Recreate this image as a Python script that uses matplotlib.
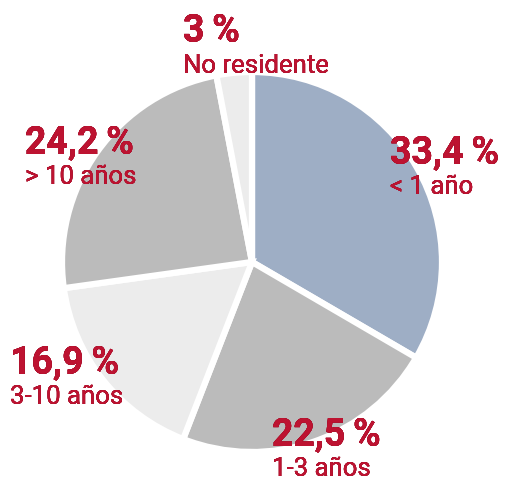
import matplotlib.pyplot as plt
import matplotlib.colors as mc
import numpy as np

plt.rcParams['font.family'] = ['Roboto', 'DejaVu Sans']

shares = [33.4, 22.5, 16.9, 24.2, 3.0]
pct_labels = ["33,4\u2009%", "22,5\u2009%", "16,9\u2009%", "24,2\u2009%", "3\u2009%"]
names = ["< 1 año", "1-3 años", "3-10 años", "> 10 años", "No residente"]
colors = ["#9eaec5", "#bbbbbb", "#ececec", "#bbbbbb", "#ececec"]
red = "#cc1435"

W, H = 511, 479
fig = plt.figure(figsize=(W / 100, H / 100), dpi=100)
cx, cy, r = 252, 262, 190
ax = fig.add_axes([(cx - r) / W, 1 - (cy + r) / H, 2 * r / W, 2 * r / H])
wedges, _ = ax.pie(shares, colors=colors, startangle=90, counterclock=False,
                   radius=1, wedgeprops=dict(edgecolor="white", linewidth=4.5))
ax.set_xlim(-1, 1)
ax.set_ylim(-1, 1)
ax.set_aspect("equal")
ax.axis("off")

# label anchor (left, baseline of the big number) in pixels
pos = [(390, 163), (272, 445), (10, 373), (25, 153), (183, 42)]
gap = 31


def multiply(c1, c2):
    a = np.array(mc.to_rgb(c1))
    b = np.array(mc.to_rgb(c2))
    return tuple(a * b)


for (x, y), p, n in zip(pos, pct_labels, names):
    for txt, yy, kw in [(p, y, dict(fontsize=27, fontweight="bold")),
                        (n, y + gap, dict(fontsize=18.5))]:
        fig.text(x / W, 1 - yy / H, txt, color=red, ha="left", va="baseline", **kw)
        for w, c in zip(wedges, colors):
            t = fig.text(x / W, 1 - yy / H, txt, color=multiply(red, c),
                         ha="left", va="baseline", **kw)
            t.set_clip_path(w)

fig.savefig("out.png", dpi=100)
